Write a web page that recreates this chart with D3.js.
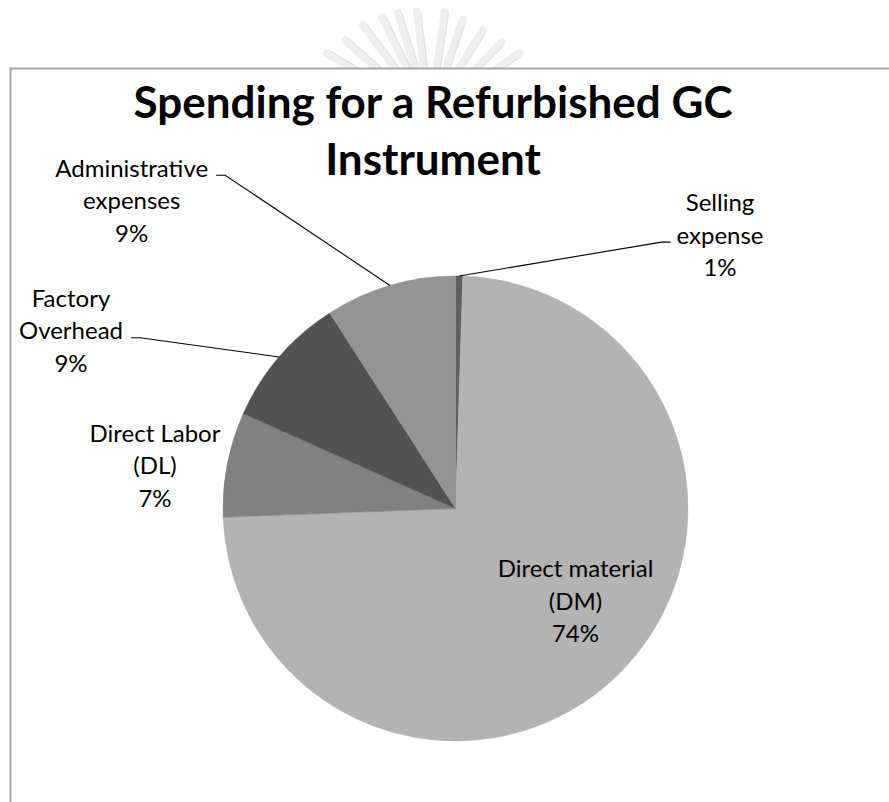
<!DOCTYPE html>
<html>
<head>
<meta charset="utf-8">
<script src="https://cdn.jsdelivr.net/npm/d3@7"></script>
<style>
  html, body { margin: 0; padding: 0; background: #fff; }
  svg { display: block; }
</style>
</head>
<body>
<svg id="chart" width="889" height="802"></svg>
<script>
// ---- data ----
const categories = ["Selling expense", "Direct material (DM)", "Direct Labor (DL)", "Factory Overhead", "Administrative expenses"];
const values = [0.5, 73.9, 7.3, 9.2, 9.1];
const labelLines = [["Selling", "expense"], ["Direct material", "(DM)"], ["Direct Labor", "(DL)"], ["Factory", "Overhead"], ["Administrative", "expenses"]];
const sliceColors = ["#5f5f5f", "#b3b3b3", "#818181", "#525252", "#949494"];
const titleLines = ["Spending for a Refurbished GC", "Instrument"];

// ---- layout ----
const W = 889, H = 802;
const cx = 455.5, cy = 508.5, R = 232.5;
const lineGap = 32.6;
const labelFont = 24;
const titleFont = 44;
// label placement: centre x, first baseline, leader (line index, side)
const labelLayout = [
  { x: 720, y: 211, leader: { line: 1, side: "left" } },
  { x: 575.5, y: 577, leader: null },
  { x: 155, y: 441.7, leader: null },
  { x: 71, y: 306.6, leader: { line: 1, side: "right" } },
  { x: 131.7, y: 176.7, leader: { line: 0, side: "right" } }
];

const svg = d3.select("#chart");
const fontFam = "Lato, 'Open Sans', 'DejaVu Sans', sans-serif";

// watermark (faint emblem rays behind the chart frame)
const wm = svg.append("g");
const rayAngles = [-59, -48.6, -36.7, -26, -17.4, -7.2, 8.3, 19, 32, 44.6, 55.4];
const rayLen = [120, 113, 112, 109, 107, 104, 104, 101, 100, 102, 109];
const ox = 430, oy = 115;
rayAngles.forEach((a, i) => {
  const rad = a * Math.PI / 180;
  const r0 = 40, r1 = rayLen[i];
  const sx = Math.sin(rad), sy = -Math.cos(rad);
  wm.append("line")
    .attr("x1", ox + r0 * sx).attr("y1", oy + r0 * sy)
    .attr("x2", ox + r1 * sx).attr("y2", oy + r1 * sy)
    .attr("stroke", "#eeeeee").attr("stroke-width", 8).attr("stroke-linecap", "round");
  const px = Math.cos(rad) * 3.5, py = Math.sin(rad) * 3.5;
  wm.append("line")
    .attr("x1", ox + r0 * sx + px).attr("y1", oy + r0 * sy + py)
    .attr("x2", ox + (r1 - 2) * sx + px).attr("y2", oy + (r1 - 2) * sy + py)
    .attr("stroke", "#e2e2e2").attr("stroke-width", 1.2);
});

// chart area (white) + border
svg.append("rect").attr("x", 10.5).attr("y", 68).attr("width", W).attr("height", H).attr("fill", "#fff");
svg.append("path").attr("d", `M10.5,${H + 2} V68.5 H${W + 2}`)
  .attr("fill", "none").attr("stroke", "#a6a6a6").attr("stroke-width", 2);

// title
const title = svg.append("text").attr("text-anchor", "middle")
  .attr("font-family", fontFam).attr("font-weight", "bold").attr("font-size", titleFont).attr("fill", "#000");
titleLines.forEach((t, i) => {
  title.append("tspan").attr("x", 433).attr("y", 118 + i * 57).text(t);
});

// pie
const pie = d3.pie().sort(null).value(d => d).startAngle(0).endAngle(2 * Math.PI);
const arcs = pie(values);
const arc = d3.arc().innerRadius(0).outerRadius(R);
const g = svg.append("g").attr("transform", `translate(${cx},${cy})`);
g.selectAll("path").data(arcs).join("path")
  .attr("d", arc)
  .attr("fill", (d, i) => sliceColors[i])
  .attr("stroke", (d, i) => sliceColors[i]).attr("stroke-width", 0.5);

// labels + leader lines
const fmt = v => Math.round(v) + "%";
arcs.forEach((a, i) => {
  const L = labelLayout[i];
  const lines = labelLines[i].concat([fmt(values[i])]);
  const tg = svg.append("g");
  const nodes = lines.map((t, j) => tg.append("text")
    .attr("x", L.x).attr("y", L.y + j * lineGap)
    .attr("text-anchor", "middle")
    .attr("font-family", fontFam).attr("font-size", labelFont).attr("fill", "#000")
    .text(t));
  if (L.leader) {
    const bb = nodes[L.leader.line].node().getBBox();
    const ly = L.y + L.leader.line * lineGap - 1.5;
    const mid = (a.startAngle + a.endAngle) / 2;
    const ex = cx + R * Math.sin(mid), ey = cy - R * Math.cos(mid);
    let sx, kx;
    if (L.leader.side === "right") { sx = bb.x + bb.width + 8; kx = sx + 9; }
    else { sx = bb.x - 6; kx = sx - 9; }
    svg.append("path").attr("d", `M${sx},${ly} H${kx} L${ex},${ey}`)
      .attr("fill", "none").attr("stroke", "#000").attr("stroke-width", 1.1);
  }
});
</script>
</body>
</html>
